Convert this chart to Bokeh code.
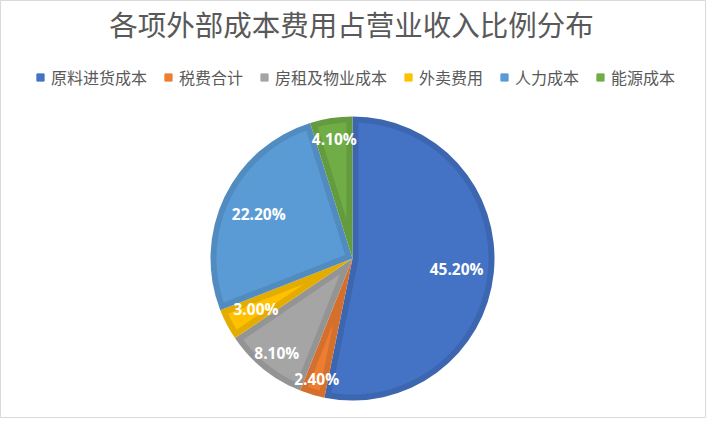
import math
from bokeh.plotting import figure
from bokeh.models import ColumnDataSource, Range1d, Legend, LegendItem, Label
from bokeh.core.properties import value
from bokeh.embed import file_html
from bokeh.resources import INLINE

# ---- data ----
categories = ["原料进货成本", "税费合计", "房租及物业成本", "外卖费用", "人力成本", "能源成本"]
shares = [45.2, 2.4, 8.1, 3.0, 22.2, 4.1]
colors = ["#4472C4", "#ED7D31", "#A5A5A5", "#FFC000", "#5B9BD5", "#70AD47"]
title_text = "各项外部成本费用占营业收入比例分布"

# ---- layout / style ----
W, H = 706, 418
CX, CY, R = 352, 160, 142          # pie centre and radius (px == data units)
INSET = 6                          # width of the darker slice border
LABEL_R = [0.737, 0.887, 0.852, 0.768, 0.732, 0.849]  # label distance (fraction of R)
CJK = "Noto Sans CJK SC"
GREY = "#595959"


def darker(hexcol, f=0.9):
    r, g, b = (int(hexcol[i:i + 2], 16) for i in (1, 3, 5))
    return "#%02x%02x%02x" % (int(r * f), int(g * f), int(b * f))


p = figure(width=W, height=H, output_backend="svg", toolbar_location=None,
           x_range=Range1d(0, W), y_range=Range1d(0, H), min_border=0,
           background_fill_color="white", border_fill_color="white")
p.axis.visible = False
p.grid.visible = False
p.outline_line_color = "#D9D9D9"
p.outline_line_width = 1

total = sum(shares)
starts, ends, mids = [], [], []
cum = 0.0
for v in shares:
    cw0 = cum / total * 2 * math.pi
    cum += v
    cw1 = cum / total * 2 * math.pi
    hi = math.pi / 2 - cw0
    lo = math.pi / 2 - cw1
    starts.append(lo)
    ends.append(hi)
    mids.append((lo + hi) / 2)

# outer slices (border colour)
src = ColumnDataSource(dict(start=starts, end=ends, fill=[darker(c) for c in colors]))
p.wedge(x=CX, y=CY, radius=R, start_angle="start", end_angle="end",
        fill_color="fill", line_color=None, source=src)

# inner (lighter) fill of each slice, inset by INSET px
xs, ys = [], []
Ri = R - INSET
for lo, hi in zip(starts, ends):
    half = (hi - lo) / 2
    m = (lo + hi) / 2
    dist = INSET / math.sin(half)
    px, py = CX + dist * math.cos(m), CY + dist * math.sin(m)
    delta = math.asin(INSET / Ri)
    a0, a1 = lo + delta, hi - delta
    n = max(6, int(math.degrees(a1 - a0) * 2))
    ptsx = [px] + [CX + Ri * math.cos(a0 + (a1 - a0) * k / n) for k in range(n + 1)]
    ptsy = [py] + [CY + Ri * math.sin(a0 + (a1 - a0) * k / n) for k in range(n + 1)]
    xs.append(ptsx)
    ys.append(ptsy)
p.patches(xs="xs", ys="ys", fill_color="fill", line_color=None,
          source=ColumnDataSource(dict(xs=xs, ys=ys, fill=colors)))

# data labels
lx = [CX + f * R * math.cos(m) for f, m in zip(LABEL_R, mids)]
ly = [CY + f * R * math.sin(m) for f, m in zip(LABEL_R, mids)]
lt = ["%.2f%%" % v for v in shares]
p.text(x="x", y="y", text="t", source=ColumnDataSource(dict(x=lx, y=ly, t=lt)),
       text_font=value("Open Sans"), text_font_style="bold", text_font_size="15.5px",
       text_color="white", text_align="center", text_baseline="middle")

# title
p.add_layout(Label(x=351, y=395, text=title_text, text_font=CJK, text_font_size="28.5px",
                   text_color=GREY, text_align="center", text_baseline="middle"))

# legend (square markers)
items = []
for cat, col in zip(categories, colors):
    r = p.scatter(x=[float("nan")], y=[float("nan")], marker="square",
                  fill_color=col, line_color=col)
    items.append(LegendItem(label=cat, renderers=[r]))
legend = Legend(items=items, orientation="horizontal", location=(31, 329),
                glyph_width=18, glyph_height=18, label_standoff=2, spacing=12,
                padding=0, margin=0, border_line_color=None, background_fill_alpha=0,
                label_text_font=CJK, label_text_font_size="16px", label_text_color=GREY,
                label_height=18)
p.add_layout(legend)

open("out.html", "w").write(file_html(p, INLINE))
